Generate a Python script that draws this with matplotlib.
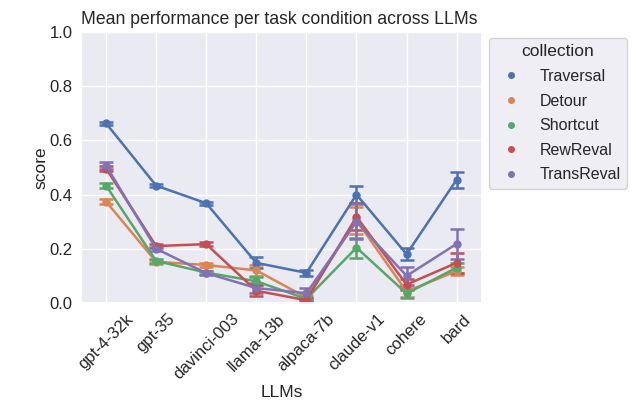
import matplotlib
matplotlib.use('Agg')
import matplotlib.pyplot as plt
import seaborn as sns

llms = ['gpt-4-32k', 'gpt-35', 'davinci-003', 'llama-13b', 'alpaca-7b', 'claude-v1', 'cohere', 'bard']
collections = ['Traversal', 'Detour', 'Shortcut', 'RewReval', 'TransReval']

# mean score per collection
traversal = [0.663, 0.433, 0.368, 0.148, 0.111, 0.400, 0.180, 0.455]
detour = [0.374, 0.152, 0.140, 0.120, 0.020, 0.305, 0.042, 0.118]
shortcut = [0.433, 0.155, 0.112, 0.080, 0.015, 0.204, 0.035, 0.130]
rewreval = [0.496, 0.210, 0.217, 0.045, 0.010, 0.318, 0.068, 0.148]
transreval = [0.507, 0.200, 0.110, 0.055, 0.036, 0.300, 0.100, 0.218]

# half width of confidence interval
traversal_ci = [0.005, 0.006, 0.006, 0.020, 0.012, 0.030, 0.022, 0.030]
detour_ci = [0.008, 0.007, 0.006, 0.020, 0.010, 0.050, 0.020, 0.015]
shortcut_ci = [0.010, 0.008, 0.006, 0.015, 0.008, 0.037, 0.018, 0.018]
rewreval_ci = [0.010, 0.008, 0.008, 0.020, 0.008, 0.050, 0.020, 0.037]
transreval_ci = [0.012, 0.008, 0.008, 0.018, 0.020, 0.065, 0.033, 0.055]

means = [traversal, detour, shortcut, rewreval, transreval]
cis = [traversal_ci, detour_ci, shortcut_ci, rewreval_ci, transreval_ci]

sns.set_theme(style='darkgrid')
plt.rcParams['font.family'] = ['Liberation Sans', 'DejaVu Sans']

colors = sns.color_palette('deep')

fig = plt.figure(figsize=(6.38, 4.05), dpi=100)
ax = fig.add_axes([0.127, 0.252, 0.628, 0.669])

x = list(range(len(llms)))
for i, name in enumerate(collections):
    ax.errorbar(x, means[i], yerr=cis[i], color=colors[i], marker='o', markersize=5,
                linewidth=1.8, elinewidth=1.8, capsize=5, capthick=1.8, label=name)

ax.set_xticks(x)
ax.set_xticklabels(llms, rotation=45, ha='center', fontsize=12)
ax.set_xlim(-0.5, len(llms) - 0.5)
ax.set_ylim(0, 1.0)
ax.set_yticks([0.0, 0.2, 0.4, 0.6, 0.8, 1.0])
ax.tick_params(axis='y', labelsize=12, length=0, pad=6)
ax.tick_params(axis='x', length=0, pad=6)
ax.set_xlabel('LLMs', fontsize=12.5, labelpad=2)
ax.set_ylabel('score', fontsize=12.5, labelpad=1)
ax.set_title('Mean performance per task condition across LLMs', fontsize=12.7, loc='left')

handles = [plt.Line2D([], [], color=colors[i], marker='o', linestyle='', markersize=4)
           for i in range(len(collections))]
leg = ax.legend(handles, collections, title='collection', loc='upper left',
                bbox_to_anchor=(1.017, 0.978), borderaxespad=0, fontsize=11.5,
                title_fontsize=12.5, labelspacing=0.6)

plt.savefig('out.png', dpi=100)
